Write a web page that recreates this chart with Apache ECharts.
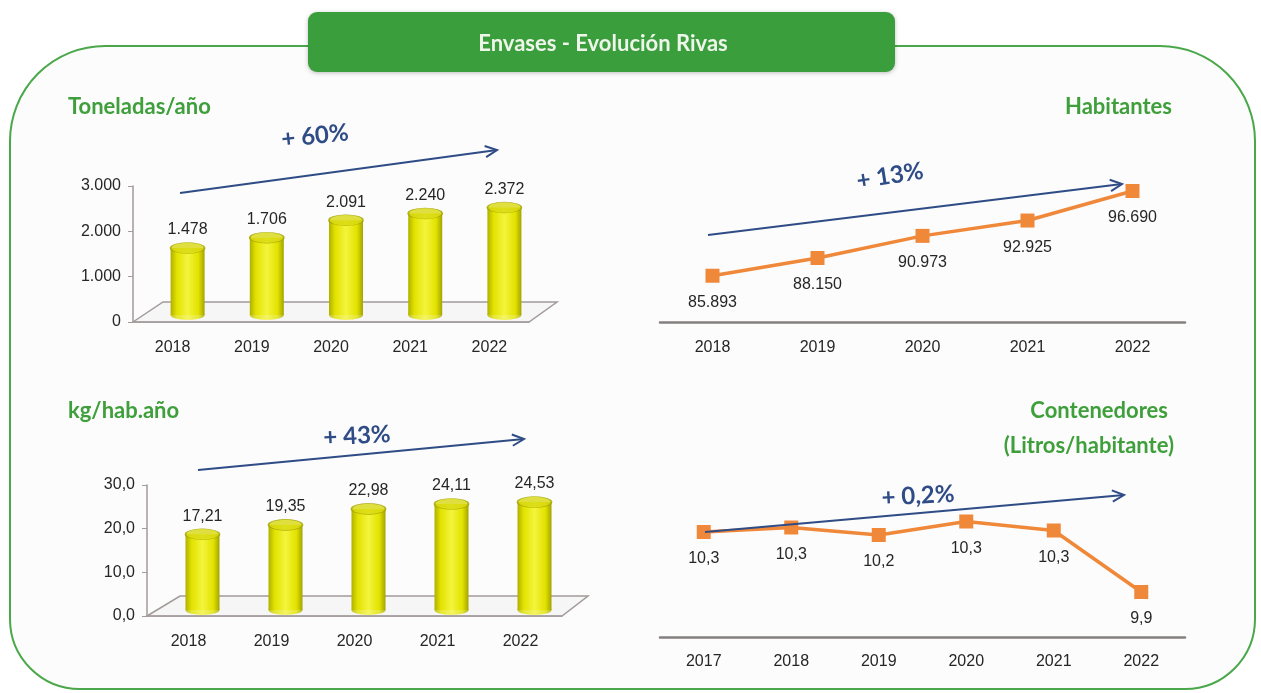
<!DOCTYPE html>
<html lang="es">
<head>
<meta charset="UTF-8" />
<title>Envases - Evolución Rivas</title>
<script src="https://cdn.jsdelivr.net/npm/echarts@6/dist/echarts.min.js"></script>
<style>
  html, body { margin: 0; padding: 0; background: #ffffff; }
  #chart { width: 1261px; height: 693px; }
</style>
</head>
<body>
<div id="chart"></div>
<script>
// data
const tonYears = ['2018', '2019', '2020', '2021', '2022'];
const tonValues = [1478, 1706, 2091, 2240, 2372];
const tonTicks = ['0', '1.000', '2.000', '3.000'];

const habYears = ['2018', '2019', '2020', '2021', '2022'];
const habValues = [85893, 88150, 90973, 92925, 96690];

const kgYears = ['2018', '2019', '2020', '2021', '2022'];
const kgValues = [17.21, 19.35, 22.98, 24.11, 24.53];
const kgTicks = ['0,0', '10,0', '20,0', '30,0'];

const contYears = ['2017', '2018', '2019', '2020', '2021', '2022'];
const contValues = [10.26, 10.29, 10.24, 10.33, 10.27, 9.86];

const FONT = '"Liberation Sans", Arial, sans-serif';
const HEAD = 'Lato, "Open Sans", sans-serif';
const GREEN = '#3e9f3b';
const NAVY = '#2f4c86';
const ORANGE = '#f0883a';
const AXIS = '#a39a9a';
const TEXT = '#262626';

const thousands = v => String(v).replace(/\B(?=(\d{3})+(?!\d))/g, '.');
const comma = (v, d) => v.toFixed(d).replace('.', ',');

const cyl = {
    type: 'linear', x: 0, y: 0, x2: 1, y2: 0,
    colorStops: [
        { offset: 0, color: '#b0b000' },
        { offset: 0.18, color: '#e2e200' },
        { offset: 0.5, color: '#f4f43c' },
        { offset: 0.82, color: '#e2e200' },
        { offset: 1, color: '#a4a400' }
    ]
};

const chart = echarts.init(document.getElementById('chart'), null, { renderer: 'canvas' });

// arrow with an open head
function arrow(x1, y1, x2, y2) {
    const a = Math.atan2(y2 - y1, x2 - x1), L = 13, s = 0.45;
    return [
        { type: 'line', z: 100, shape: { x1, y1, x2, y2 }, style: { stroke: NAVY, lineWidth: 2 } },
        { type: 'polyline', z: 100, shape: { points: [
            [x2 - L * Math.cos(a - s), y2 - L * Math.sin(a - s)], [x2, y2],
            [x2 - L * Math.cos(a + s), y2 - L * Math.sin(a + s)]] },
          style: { stroke: NAVY, lineWidth: 2, fill: null } }
    ];
}
function pct(text, x, y, rot) {
    return { type: 'text', z: 100, x, y, rotation: rot * Math.PI / 180,
        style: { text, x: 0, y: 0, align: 'center', verticalAlign: 'middle',
                 font: 'bold 24px ' + HEAD, fill: NAVY } };
}
function heading(text, x, y, align) {
    return { type: 'text', z: 100, style: { text, x, y, align, verticalAlign: 'middle',
                 font: 'bold 22px ' + HEAD, fill: GREEN } };
}
function floor(pts) {
    return { type: 'polygon', z: 1, shape: { points: pts },
             style: { fill: 'rgba(235,235,235,0.35)', stroke: AXIS, lineWidth: 1.5 } };
}

const axisText = { color: TEXT, fontSize: 16, fontFamily: FONT };

function barSeries(axis, values, fmt) {
    return [
        { type: 'scatter', xAxisIndex: axis, yAxisIndex: axis, z: 2, silent: true,
          data: values.map((v, i) => [i, 0]), symbol: 'circle', symbolSize: [34, 10],
          itemStyle: { color: cyl } },
        { type: 'bar', xAxisIndex: axis, yAxisIndex: axis, z: 3, data: values, barWidth: 34,
          itemStyle: { color: cyl },
          label: { show: true, position: 'top', distance: 10, formatter: p => fmt(p.value),
                   color: TEXT, fontSize: 16, fontFamily: FONT } },
        { type: 'scatter', xAxisIndex: axis, yAxisIndex: axis, z: 4, silent: true,
          data: values.map((v, i) => [i, v]), symbol: 'circle', symbolSize: [34, 11],
          itemStyle: { color: '#d8d812', borderColor: '#a2a200', borderWidth: 1 } }
    ];
}
function lineSeries(axis, values, fmt) {
    return { type: 'line', xAxisIndex: axis, yAxisIndex: axis, data: values,
        symbol: 'rect', symbolSize: 14, z: 5,
        lineStyle: { color: ORANGE, width: 3.5 }, itemStyle: { color: ORANGE },
        label: { show: true, position: 'bottom', distance: 12, formatter: p => fmt(p.value),
                 color: TEXT, fontSize: 16, fontFamily: FONT } };
}

const option = {
    animation: false,
    backgroundColor: '#ffffff',
    grid: [
        { left: 133, right: 732, top: 186, bottom: 371 },   // toneladas axes
        { left: 148, right: 717, top: 179, bottom: 378 },   // toneladas bars
        { left: 147, right: 699, top: 485, bottom: 77 },    // kg axes
        { left: 161, right: 685, top: 478, bottom: 83 },    // kg bars
        { left: 660, right: 76, top: 165, bottom: 371 },    // habitantes
        { left: 660, right: 76, top: 487, bottom: 56 }      // contenedores
    ],
    xAxis: [
        { gridIndex: 0, type: 'category', data: tonYears,
          axisLine: { lineStyle: { color: AXIS, width: 1.5 } }, axisTick: { lineStyle: { color: AXIS } },
          axisLabel: Object.assign({ margin: 18, interval: 0 }, axisText) },
        { gridIndex: 1, type: 'category', data: tonYears, show: false },
        { gridIndex: 2, type: 'category', data: kgYears,
          axisLine: { lineStyle: { color: AXIS, width: 1.5 } }, axisTick: { lineStyle: { color: AXIS } },
          axisLabel: Object.assign({ margin: 18, interval: 0 }, axisText) },
        { gridIndex: 3, type: 'category', data: kgYears, show: false },
        { gridIndex: 4, type: 'category', data: habYears,
          axisLine: { lineStyle: { color: '#858080', width: 2.5 } }, axisTick: { show: false },
          axisLabel: Object.assign({ margin: 18, interval: 0 }, axisText) },
        { gridIndex: 5, type: 'category', data: contYears,
          axisLine: { lineStyle: { color: '#858080', width: 2.5 } }, axisTick: { show: false },
          axisLabel: Object.assign({ margin: 17, interval: 0 }, axisText) }
    ],
    yAxis: [
        { gridIndex: 0, type: 'value', min: 0, max: 3000, interval: 1000, splitLine: { show: false },
          axisLine: { show: true, lineStyle: { color: AXIS, width: 1.5 } },
          axisTick: { show: true, lineStyle: { color: AXIS } },
          axisLabel: Object.assign({ margin: 12, formatter: v => tonTicks[v / 1000] }, axisText) },
        { gridIndex: 1, type: 'value', min: 0, max: 3000, show: false, splitLine: { show: false } },
        { gridIndex: 2, type: 'value', min: 0, max: 30, interval: 10, splitLine: { show: false },
          axisLine: { show: true, lineStyle: { color: AXIS, width: 1.5 } },
          axisTick: { show: true, lineStyle: { color: AXIS } },
          axisLabel: Object.assign({ margin: 12, formatter: v => kgTicks[v / 10] }, axisText) },
        { gridIndex: 3, type: 'value', min: 0, max: 30, show: false, splitLine: { show: false } },
        { gridIndex: 4, type: 'value', min: 80000, max: 100000, show: false, splitLine: { show: false } },
        { gridIndex: 5, type: 'value', min: 9.56, max: 10.56, show: false, splitLine: { show: false } }
    ],
    series: [].concat(
        barSeries(1, tonValues, v => thousands(v)),
        barSeries(3, kgValues, v => comma(v, 2)),
        [lineSeries(4, habValues, v => thousands(v)),
         lineSeries(5, contValues, v => comma(v, 1))]
    ),
    graphic: [].concat(
        [
            { type: 'rect', z: -1, shape: { x: 10, y: 46, width: 1245, height: 643, r: [95, 95, 70, 70] },
              style: { fill: '#fbfcfb', stroke: '#4aa84a', lineWidth: 2 } },
            { type: 'rect', z: 50, shape: { x: 308, y: 12, width: 587, height: 60, r: 9 },
              style: { fill: '#3b9e3d', shadowBlur: 4, shadowColor: 'rgba(0,0,0,0.25)', shadowOffsetY: 1 } },
            { type: 'text', z: 51, style: { text: 'Envases - Evolución Rivas', x: 603, y: 44,
              align: 'center', verticalAlign: 'middle', font: 'bold 22px ' + HEAD, fill: '#eef5ea' } },
            heading('Toneladas/año', 68, 107, 'left'),
            heading('Habitantes', 1172, 107, 'right'),
            heading('kg/hab.año', 68, 411, 'left'),
            heading('Contenedores', 1168, 411, 'right'),
            heading('(Litros/habitante)', 1174, 446, 'right'),
            floor([[133, 322], [163, 302], [557, 302], [529, 322]]),
            floor([[147, 616], [180, 596], [588, 596], [562, 616]]),
            pct('+ 60%', 315, 136, 6),
            pct('+ 13%', 890, 176, 9),
            pct('+ 43%', 357, 436, 3),
            pct('+ 0,2%', 918, 496, 3)
        ],
        arrow(180, 193, 497, 150),
        arrow(708, 235, 1122, 184),
        arrow(198, 470, 524, 439),
        arrow(705, 532, 1124, 495)
    )
};
chart.setOption(option);
</script>
</body>
</html>
